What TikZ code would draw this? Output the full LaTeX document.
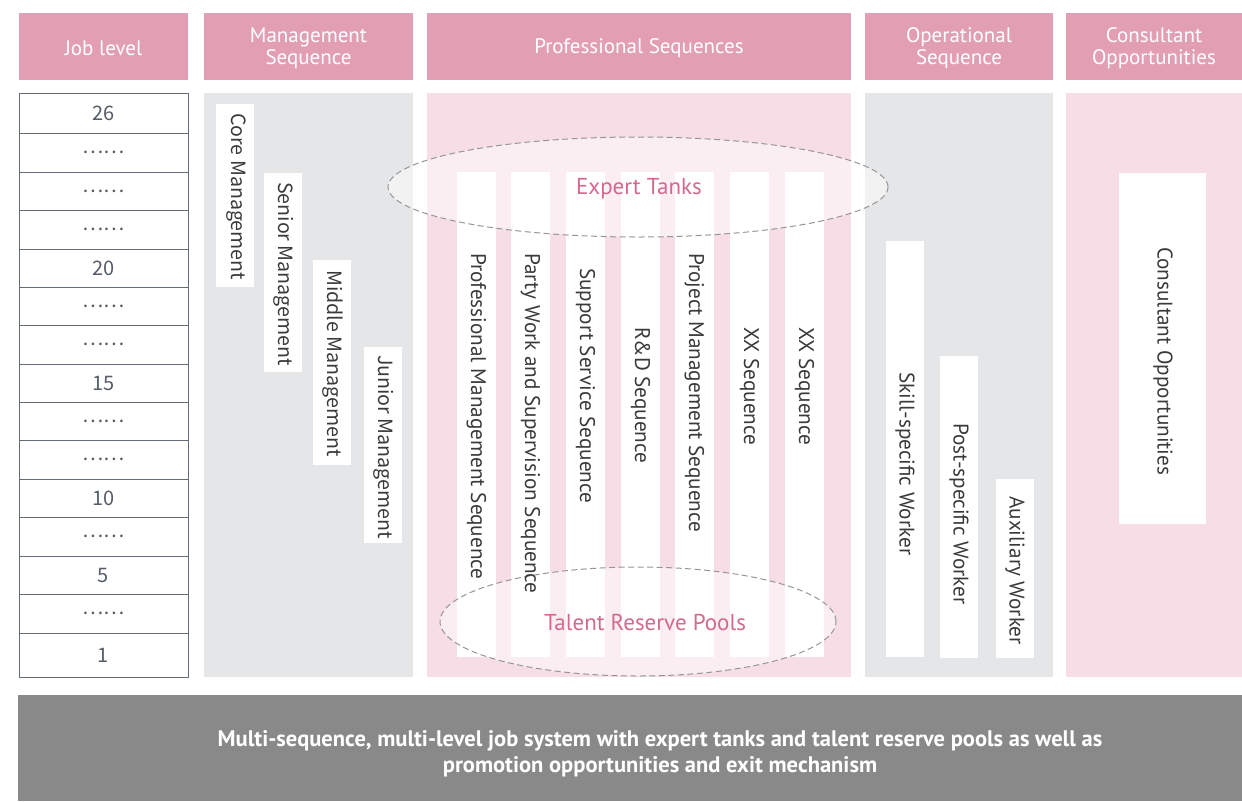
\documentclass[tikz,border=0pt]{standalone}
\usepackage{fontspec}
\setmainfont{PT Sans}
\newfontfamily\cjkf{Noto Sans CJK SC}
\usetikzlibrary{shapes.geometric}
\definecolor{hdrpink}{RGB}{226,159,179}
\definecolor{panelpink}{RGB}{246,221,230}
\definecolor{panelgray}{RGB}{229,230,232}
\definecolor{accent}{RGB}{212,104,144}
\definecolor{bottomgray}{RGB}{137,137,137}
\definecolor{tableline}{RGB}{100,108,120}
\definecolor{numgray}{RGB}{85,93,104}
\definecolor{labgray}{RGB}{58,58,58}
\definecolor{dashgray}{RGB}{150,150,150}
\tikzset{
  box/.style={rectangle, inner sep=0pt, outer sep=0pt},
  hdr/.style={box, fill=hdrpink, minimum height=67pt},
  hdrtext/.style={text=white, align=center, inner sep=0pt, yshift=-2pt,
    font=\fontsize{21}{22}\selectfont},
  pinkpanel/.style={box, fill=panelpink},
  graypanel/.style={box, fill=panelgray},
  barw/.style={box, fill=white},
  rowbox/.style={box, fill=white, draw=tableline, line width=1pt,
    text=numgray, font=\cjkf\fontsize{20}{22}\selectfont},
  mlab/.style={rotate=-90, anchor=west, inner sep=0pt, text=labgray,
    font=\cjkf\fontsize{19.6}{22}\selectfont},
  plab/.style={rotate=-90, anchor=west, inner sep=0pt, text=labgray,
    font=\fontsize{21.2}{22}\selectfont},
  oval/.style={ellipse, inner sep=0pt, fill=white, fill opacity=0.5,
    draw=dashgray, draw opacity=1, dash pattern=on 6pt off 3.5pt, line width=1pt},
  ovlab/.style={text=accent, font=\fontsize{23}{24}\selectfont},
}
\begin{document}
\begin{tikzpicture}[x=1pt,y=-1pt]
\useasboundingbox (0,0) rectangle (1242,801);
\fill[white] (0,0) rectangle (1242,801);

% headers
\node[hdr, minimum width=169pt] (hjob) at (103.5,46.5) {};
\node[hdr, minimum width=209pt] (hmgmt) at (308.5,46.5) {};
\node[hdr, minimum width=424pt] (hprof) at (639,46.5) {};
\node[hdr, minimum width=188pt] (hop) at (959,46.5) {};
\node[hdr, minimum width=176pt] (hcons) at (1154,46.5) {};
\node[hdrtext] (thjob) at (hjob.center) {Job level};
\node[hdrtext] (thmgmt) at (hmgmt.center) {Management\\Sequence};
\node[hdrtext] (thprof) at (hprof.center) {Professional Sequences};
\node[hdrtext] (thop) at (hop.center) {Operational\\Sequence};
\node[hdrtext] (thcons) at (hcons.center) {Consultant\\Opportunities};

% panels
\node[graypanel, minimum width=209pt, minimum height=584pt] (pmgmt) at (308.5,385) {};
\node[pinkpanel, minimum width=424pt, minimum height=584pt] (pprof) at (639,385) {};
\node[graypanel, minimum width=188pt, minimum height=584pt] (pop) at (959,385) {};
\node[pinkpanel, minimum width=176pt, minimum height=584pt] (pcons) at (1154,385) {};

% job level table
\foreach \t/\b/\l [count=\i] in {93/133/26, 133/172/……, 172/210/……, 210/249/……,
  249/287/20, 287/325/……, 325/364/……, 364/402/15, 402/440/……, 440/479/……,
  479/517/10, 517/556/……, 556/594/5, 594/633/……, 633/677/1}{
  \node[rowbox, minimum width=169pt, minimum height={(\b-\t)*1pt}] (row\i)
    at (103.5,{(\t+\b)/2}) {\l};
}

% management bars
\node[barw, minimum width=38pt, minimum height=183pt] (bcore) at (235,195.5) {};
\node[barw, minimum width=38pt, minimum height=199pt] (bsen) at (283,272.5) {};
\node[barw, minimum width=38pt, minimum height=205pt] (bmid) at (332,362.5) {};
\node[barw, minimum width=38pt, minimum height=196pt] (bjun) at (383,445) {};
\node[mlab] (tcore) at (236,113) {Core Management};
\node[mlab] (tsen) at (284,182) {Senior Management};
\node[mlab] (tmid) at (333,270) {Middle Management};
\node[mlab] (tjun) at (384,355) {Junior Management};

% professional bars
\foreach \xl [count=\i] in {457,511,566,621,675,730,785}{
  \node[barw, minimum width=39pt, minimum height=485pt] (bp\i) at ({\xl+19.5},414.5) {};
}

% ellipses
\node[oval, minimum width=500pt, minimum height=100pt] (expert) at (638,187) {};
\node[oval, minimum width=396pt, minimum height=109pt] (talent) at (638,621.5) {};
\node[ovlab, yshift=-2pt] (texpert) at (639,187) {Expert Tanks};
\node[ovlab] (ttalent) at (645,622) {Talent Reserve Pools};

\node[plab] (tp1) at (476.5,253) {Professional Management Sequence};
\node[plab] (tp2) at (530.5,253) {Party Work and Supervision Sequence};
\node[plab] (tp3) at (585.5,268) {Support Service Sequence};
\node[plab] (tp4) at (640.5,327) {R\&D Sequence};
\node[plab] (tp5) at (694.5,253) {Project Management Sequence};
\node[plab] (tp6) at (749.5,327) {XX Sequence};
\node[plab] (tp7) at (804.5,327) {XX Sequence};

% operational bars
\node[barw, minimum width=38pt, minimum height=416pt] (bskill) at (905,449) {};
\node[barw, minimum width=38pt, minimum height=302pt] (bpost) at (959,507) {};
\node[barw, minimum width=38pt, minimum height=179pt] (baux) at (1015,568.5) {};
\node[plab] (tskill) at (905,372) {Skill-specific Worker};
\node[plab] (tpost) at (959,423) {Post-specific Worker};
\node[plab] (taux) at (1015,496) {Auxiliary Worker};

% consultant bar
\node[barw, minimum width=87pt, minimum height=351pt] (bcons) at (1162.5,348.5) {};
\node[plab] (tcons) at (1163,247) {Consultant Opportunities};

% bottom bar
\node[box, fill=bottomgray, minimum width=1224pt, minimum height=106pt] (bottom) at (630,748) {};
\node[text=white, align=center, inner sep=0pt, font=\bfseries\fontsize{22.5}{26}\selectfont] (tbottom) at (660,754)
  {Multi-sequence, multi-level job system with expert tanks and talent reserve pools as well as\\
   promotion opportunities and exit mechanism};
\end{tikzpicture}
\end{document}
